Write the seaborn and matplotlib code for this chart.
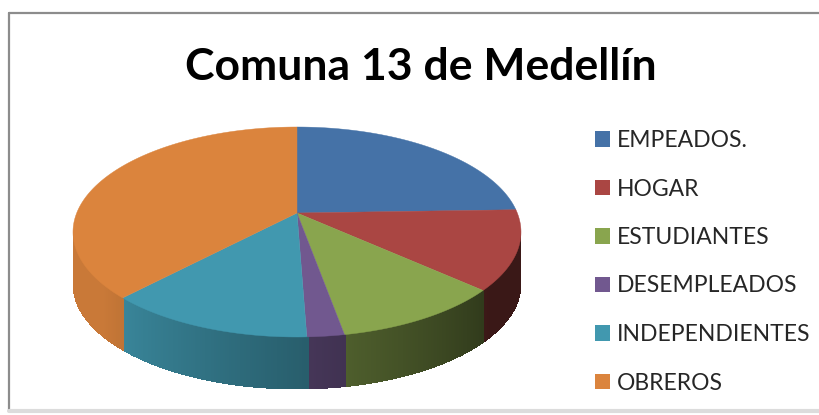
import numpy as np
import seaborn as sns
import matplotlib.pyplot as plt
from matplotlib.patches import Polygon, Patch
from matplotlib.lines import Line2D
from matplotlib.colors import to_rgb

sns.set_theme(style='white')
plt.rcParams['font.family'] = ['Lato', 'DejaVu Sans']

# data (percent of the comuna's population)
labels = ['EMPEADOS.', 'HOGAR', 'ESTUDIANTES', 'DESEMPLEADOS', 'INDEPENDIENTES', 'OBREROS']
values = [21.6, 12.8, 12.2, 2.7, 14.9, 35.8]
colors = ['#4572A7', '#AA4643', '#89A54E', '#71588F', '#4198AF', '#DB843D']

W, H = 819, 415
fig = plt.figure(figsize=(W / 100, H / 100), dpi=100)

# pie geometry in pixels: centre, half-axes, thickness, apex (perspective)
cx, cy, a, b, depth, apex_y = 297, 232, 224, 105, 52, 213
x0, x1 = -1.05, 1.05
y0, y1 = -1.6, 1.1
ax = fig.add_axes([(cx + a * x0) / W, (H - (cy - b * y0)) / H,
                   a * (x1 - x0) / W, b * (y1 - y0) / H])

wedges, _ = ax.pie(values, colors=colors, startangle=90, counterclock=False,
                   wedgeprops=dict(linewidth=0))
ax.set_aspect('auto')
ax.set_xlim(x0, x1)
ax.set_ylim(y0, y1)
ax.axis('off')

d = depth / b
apex = (0, (cy - apex_y) / b)


def shade(theta):
    # theta clockwise from 12 o'clock, side gets darker to the right
    t = np.clip((theta - 120) / 120, 0, 1)
    return 0.34 + 0.58 * t


for w, c in zip(wedges, colors):
    rgb = np.array(to_rgb(c))
    t1, t2 = w.theta1, w.theta2
    phis = np.linspace(t1, t2, max(int((t2 - t1) / 0.5), 2) + 1)
    rad = np.radians(phis)
    # side strip, front half only
    for p1, p2 in zip(phis[:-1], phis[1:]):
        pm = 0.5 * (p1 + p2) % 360
        if pm < 180:
            continue
        r1, r2 = np.radians(p1), np.radians(p2 + 0.3)
        pts = [(np.cos(r1), np.sin(r1)), (np.cos(r2), np.sin(r2)),
               (np.cos(r2), np.sin(r2) - d), (np.cos(r1), np.sin(r1) - d)]
        col = rgb * shade((90 - pm) % 360)
        ax.add_patch(Polygon(pts, closed=True, facecolor=col, edgecolor='none',
                             antialiased=False, zorder=1))
    # top face with the apex pulled back like the perspective view
    top = [apex] + list(zip(np.cos(rad), np.sin(rad)))
    ax.add_patch(Polygon(top, closed=True, facecolor=rgb, edgecolor=rgb,
                         linewidth=0.3, zorder=3))
    w.set_visible(False)

fig.text(421 / W, 1 - 67 / H, 'Comuna 13 de Medellín', ha='center', va='center',
         fontsize=32, fontweight='bold', color='black')

handles = [Patch(facecolor=c, edgecolor='none') for c in colors]
fig.legend(handles, labels, loc='upper left', bbox_to_anchor=(595 / W, 1 - 130 / H),
           frameon=False, fontsize=16.5, handlelength=0.65, handleheight=0.65,
           handletextpad=0.32, labelspacing=1.2, borderaxespad=0, borderpad=0)

# chart area border
fig.add_artist(Line2D([9 / W, 9 / W], [1 - 13 / H, 1 - 411 / H], color='#8c8c8c', lw=1.6))
fig.add_artist(Line2D([9 / W, 1], [1 - 13 / H, 1 - 13 / H], color='#8c8c8c', lw=1.6))
fig.add_artist(Line2D([9 / W, 1], [1 - 411 / H, 1 - 411 / H], color='#dcdcdc', lw=3))

fig.savefig('out.png', dpi=100)
